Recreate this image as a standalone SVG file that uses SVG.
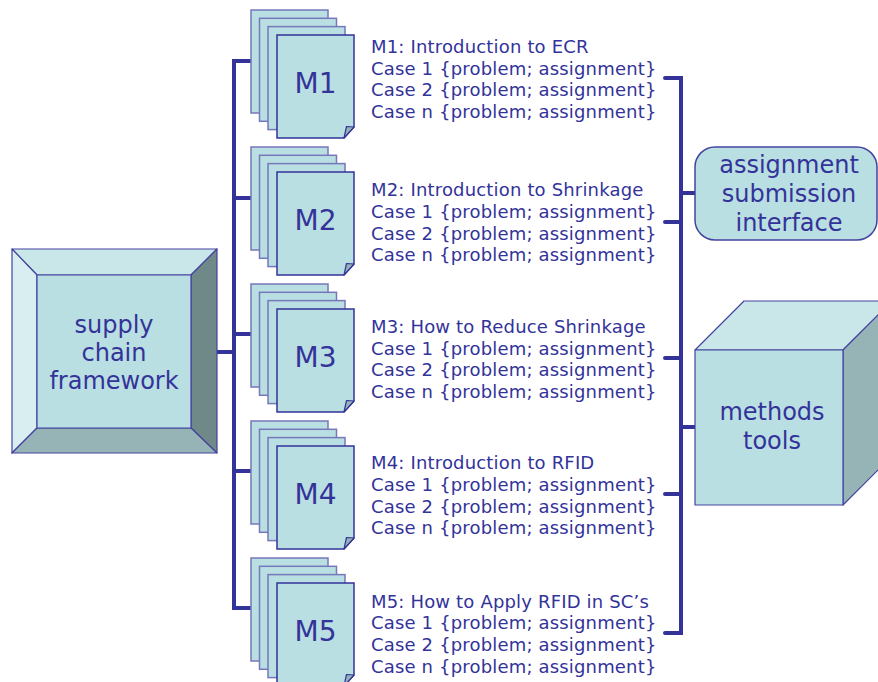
<svg xmlns="http://www.w3.org/2000/svg" width="878" height="682" viewBox="0 0 878 682">
<defs>
<style>
text{font-family:"DejaVu Sans","Verdana",sans-serif;fill:#333399}
.case{font-size:18px;letter-spacing:0.17px}
.big{font-size:24px;text-anchor:middle}
.mlab{font-size:28px;text-anchor:middle}
.back{fill:#b9dfe2;stroke:#7777bb;stroke-width:1.5}
.front{fill:#b9dfe2;stroke:#333399;stroke-width:1.5}
.fold{fill:#96b4b6;stroke:#333399;stroke-width:1.2;stroke-linejoin:round}
.conn{fill:none;stroke:#333399;stroke-width:4;stroke-linecap:round;stroke-linejoin:miter}
.edge{stroke:#4444a0;stroke-width:1.2;stroke-linejoin:round}
</style>
<g id="stack">
<rect class="back" x="251" y="0" width="77" height="103"/>
<rect class="back" x="259.5" y="8.3" width="77" height="103"/>
<rect class="back" x="268" y="16.6" width="77" height="103"/>
<path class="front" d="M277,25 H354 V117 L344,128 H277 Z"/>
<path class="fold" d="M354,117 L346.5,116.5 L344,128 Z"/>
</g>
</defs>
<rect width="878" height="682" fill="#ffffff"/>

<g id="connectors">
<path class="conn" d="M252,61 H234 V608 H252"/>
<path class="conn" d="M216,352 H234"/>
<path class="conn" d="M234,198 H252 M234,334 H252 M234,471 H252"/>
<path class="conn" d="M665,78 H681 V633 H665"/>
<path class="conn" d="M665,222 H681 M665,358 H681 M665,494 H681"/>
<path class="conn" d="M681,193 H697 M681,427 H697"/>
</g>

<g id="supply-chain-framework">
<polygon class="edge" fill="#c9e6e8" points="12,249 217,249 191,275 37,275"/>
<polygon class="edge" fill="#d9eef0" points="12,249 37,275 37,428 12,453"/>
<polygon class="edge" fill="#6f8888" points="217,249 217,453 191,428 191,275"/>
<polygon class="edge" fill="#96b4b6" points="12,453 217,453 191,428 37,428"/>
<rect class="edge" fill="#b9dfe2" x="37" y="275" width="154" height="153"/>
<text class="big" x="114" y="333">supply</text>
<text class="big" x="114" y="361">chain</text>
<text class="big" x="114" y="389">framework</text>
</g>

<g id="M1">
<use href="#stack" x="0" y="10"/>
<text class="mlab" x="315.5" y="93">M1</text>
<text class="case" x="371" y="53">M1: Introduction to ECR</text>
<text class="case" x="371" y="75">Case 1 {problem; assignment}</text>
<text class="case" x="371" y="96">Case 2 {problem; assignment}</text>
<text class="case" x="371" y="118">Case n {problem; assignment}</text>
</g>

<g id="M2">
<use href="#stack" x="0" y="147"/>
<text class="mlab" x="315.5" y="230">M2</text>
<text class="case" x="371" y="196">M2: Introduction to Shrinkage</text>
<text class="case" x="371" y="218">Case 1 {problem; assignment}</text>
<text class="case" x="371" y="240">Case 2 {problem; assignment}</text>
<text class="case" x="371" y="261">Case n {problem; assignment}</text>
</g>

<g id="M3">
<use href="#stack" x="0" y="284"/>
<text class="mlab" x="315.5" y="367">M3</text>
<text class="case" x="371" y="333">M3: How to Reduce Shrinkage</text>
<text class="case" x="371" y="355">Case 1 {problem; assignment}</text>
<text class="case" x="371" y="376">Case 2 {problem; assignment}</text>
<text class="case" x="371" y="398">Case n {problem; assignment}</text>
</g>

<g id="M4">
<use href="#stack" x="0" y="421"/>
<text class="mlab" x="315.5" y="504">M4</text>
<text class="case" x="371" y="469">M4: Introduction to RFID</text>
<text class="case" x="371" y="491">Case 1 {problem; assignment}</text>
<text class="case" x="371" y="513">Case 2 {problem; assignment}</text>
<text class="case" x="371" y="534">Case n {problem; assignment}</text>
</g>

<g id="M5">
<use href="#stack" x="0" y="558"/>
<text class="mlab" x="315.5" y="641">M5</text>
<text class="case" x="371" y="608">M5: How to Apply RFID in SC’s</text>
<text class="case" x="371" y="629">Case 1 {problem; assignment}</text>
<text class="case" x="371" y="651">Case 2 {problem; assignment}</text>
<text class="case" x="371" y="673">Case n {problem; assignment}</text>
</g>

<g id="assignment-submission-interface">
<rect x="695" y="147" width="182" height="93" rx="20" ry="20" fill="#b9dfe2" stroke="#4444a0" stroke-width="1.5"/>
<text class="big" x="789" y="173">assignment</text>
<text class="big" x="789" y="202">submission</text>
<text class="big" x="789" y="231">interface</text>
</g>

<g id="methods-tools">
<polygon class="edge" fill="#c9e6e8" stroke="#7c7cc0" points="695,350 744,301 892,301 843,350"/>
<polygon class="edge" fill="#96b4b6" points="843,350 892,301 892,456 843,505"/>
<rect class="edge" fill="#b9dfe2" x="695" y="350" width="148" height="155"/>
<text class="big" x="772" y="420">methods</text>
<text class="big" x="772" y="449">tools</text>
</g>
</svg>
